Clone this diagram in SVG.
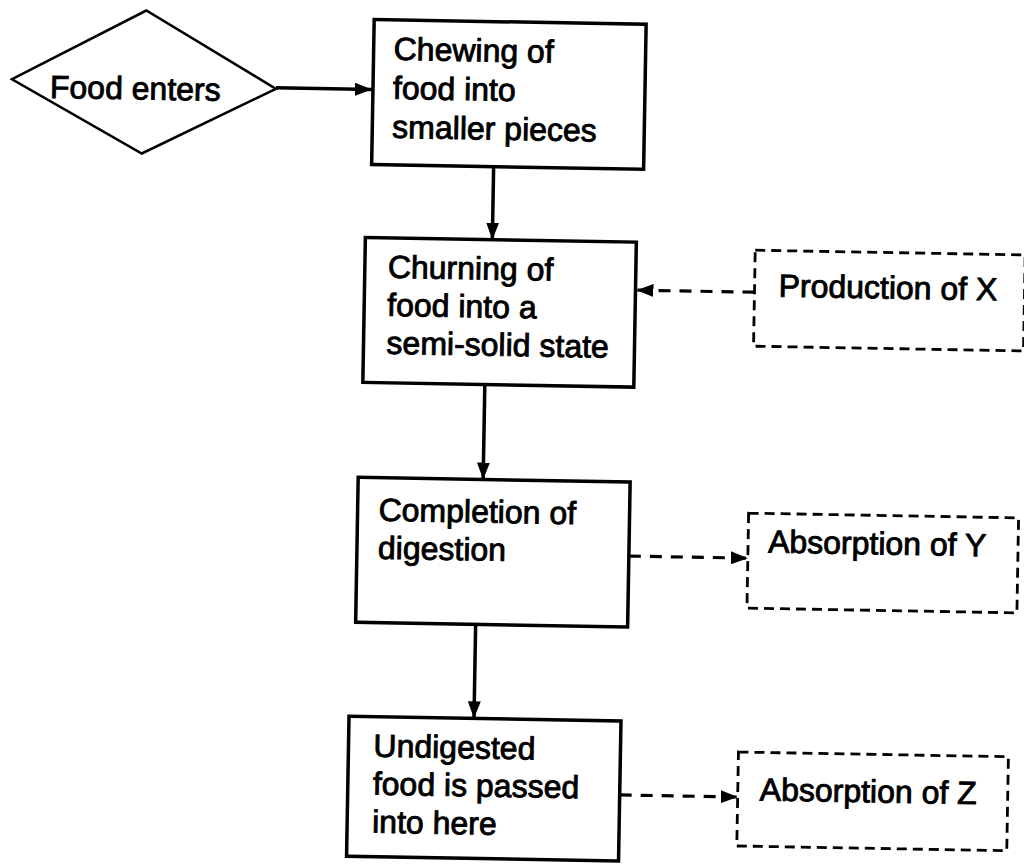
<svg xmlns="http://www.w3.org/2000/svg" width="1024" height="864" viewBox="0 0 1024 864">
<defs>
<marker id="ah" markerUnits="userSpaceOnUse" markerWidth="17" markerHeight="13" refX="17" refY="6.5" orient="auto">
<path d="M0,0 L17,6.5 L0,13 z" fill="#000"/>
</marker>
<style>
.box{fill:#fff;stroke:#000;stroke-width:3.5}
.dbox{fill:#fff;stroke:#000;stroke-width:2.8;stroke-dasharray:10 6}
.dia{fill:#fff;stroke:#000;stroke-width:2.5}
.t{font-family:"Liberation Sans",Arial,sans-serif;font-size:32px;fill:#000;stroke:#000;stroke-width:0.9}
.c{fill:none;stroke:#000;stroke-width:3.5}
.cd{fill:none;stroke:#000;stroke-width:3.2;stroke-dasharray:12 9}
</style>
</defs>
<rect x="0" y="0" width="1024" height="864" fill="#fff"/>
<g transform="rotate(1 512 432)">
<g id="connectors">
<path class="c" d="M270,92 L366,92" marker-end="url(#ah)"/>
<path class="c" d="M489,167 L489,240" marker-end="url(#ah)"/>
<path class="c" d="M484,385 L484,480" marker-end="url(#ah)"/>
<path class="c" d="M479,625 L479,719" marker-end="url(#ah)"/>
<path class="cd" d="M752,288 L634,288" marker-end="url(#ah)"/>
<path class="cd" d="M631,554 L750,554" marker-end="url(#ah)"/>
<path class="cd" d="M626,793 L744,793" marker-end="url(#ah)"/>
</g>
<g id="food-enters">
<polygon class="dia" points="6,88 139,17 270,93 137,160"/>
<text class="t" x="44" y="106">Food enters</text>
</g>
<g id="chewing">
<rect class="box" x="367" y="22" width="272" height="145"/>
<text class="t" x="387" y="62">Chewing of</text>
<text class="t" x="387" y="101">food into</text>
<text class="t" x="387" y="140">smaller pieces</text>
</g>
<g id="churning">
<rect class="box" x="362" y="240" width="271" height="145"/>
<text class="t" x="385" y="280">Churning of</text>
<text class="t" x="385" y="318">food into a</text>
<text class="t" x="385" y="356">semi-solid state</text>
</g>
<g id="completion">
<rect class="box" x="359" y="480" width="272" height="145"/>
<text class="t" x="380" y="523">Completion of</text>
<text class="t" x="380" y="561">digestion</text>
</g>
<g id="undigested">
<rect class="box" x="354" y="719" width="272" height="140"/>
<text class="t" x="379" y="759">Undigested</text>
<text class="t" x="379" y="797">food is passed</text>
<text class="t" x="379" y="835">into here</text>
</g>
<g id="production-x">
<rect class="dbox" x="752" y="246" width="270" height="96"/>
<text class="t" x="776" y="292">Production of X</text>
</g>
<g id="absorption-y">
<rect class="dbox" x="750" y="509" width="270" height="95"/>
<text class="t" x="770" y="548">Absorption of Y</text>
</g>
<g id="absorption-z">
<rect class="dbox" x="744" y="748" width="270" height="94"/>
<text class="t" x="766" y="796">Absorption of Z</text>
</g>
</g>
</svg>
